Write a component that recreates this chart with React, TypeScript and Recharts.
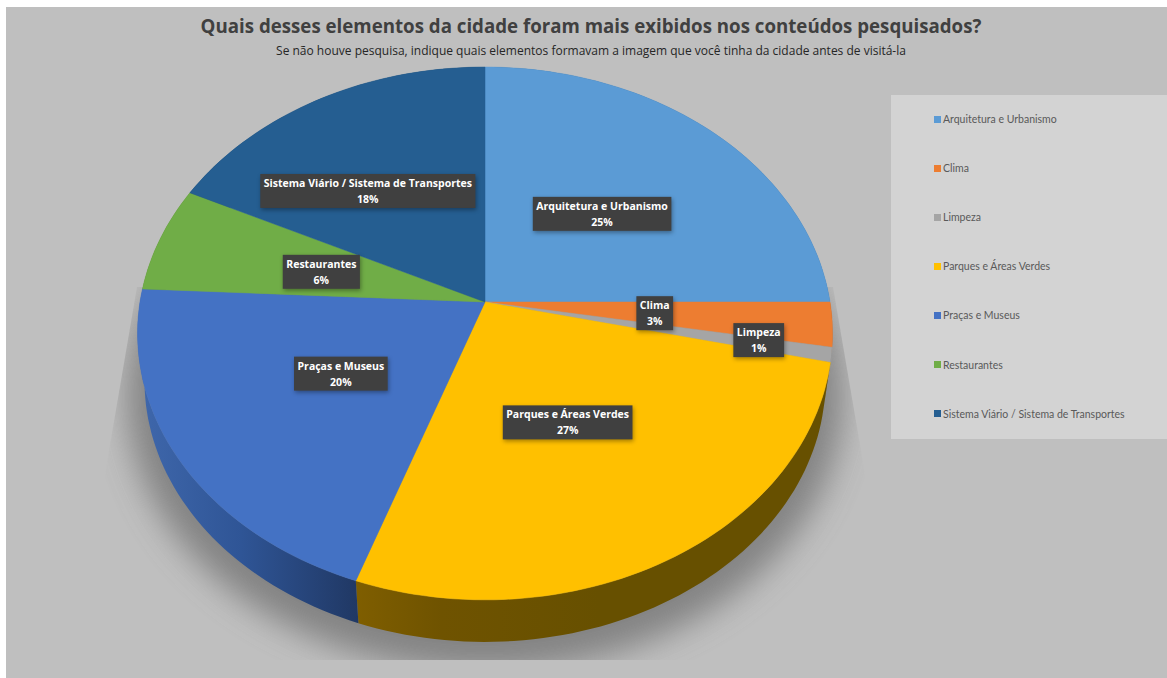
import { Legend, Pie, PieChart } from "recharts";

const TITLE = "Quais desses elementos da cidade foram mais exibidos nos conteúdos pesquisados?";
const SUBTITLE = "Se não houve pesquisa, indique quais elementos formavam a imagem que você tinha da cidade antes de visitá-la";

const categories = [
  "Arquitetura e Urbanismo",
  "Clima",
  "Limpeza",
  "Parques e Áreas Verdes",
  "Praças e Museus",
  "Restaurantes",
  "Sistema Viário / Sistema de Transportes",
];
const shares = [25, 2.7, 0.9, 26.8, 20.4, 6.4, 17.8];
const colors = ["#5b9bd5", "#ed7d31", "#a5a5a5", "#ffc000", "#4472c4", "#70ad47", "#255e91"];
const wallFills = ["#3a6a94", "#a5561f", "#737373", "url(#wallYellow)", "url(#wallBlue)", "#4e7a31", "#1a4265"];

const pieData = categories.map((name, i) => ({ name, value: shares[i], fill: colors[i] }));

const WIDTH = 1167;
const HEIGHT = 678;
const CX = 485;
const CY = 302;
const RADIUS = 345;
const RADIUS_Y = 262.7;
const PERSPECTIVE = 0.118;
const FONT = "'Open Sans', sans-serif";

// labels that Excel had been dragged away from the default spot
const labelNudge: Record<string, [number, number]> = {
  "Arquitetura e Urbanismo": [0, 1],
  Clima: [-3, 0],
  Limpeza: [-2, -4],
  "Parques e Áreas Verdes": [-5, -1],
  "Praças e Museus": [4, -4],
  Restaurantes: [1, 2],
  "Sistema Viário / Sistema de Transportes": [-30, -5],
};

// the pie is tilted away from the viewer, so the circle goes through a projective map
function project(angle: number, r = 1, scale = 1, dy = 0) {
  const t = ((90 - angle) * Math.PI) / 180;
  const u = Math.sin(t) * r;
  const v = -Math.cos(t) * r;
  const w = 1 - PERSPECTIVE * v;
  return { x: CX + (RADIUS * scale * u) / w, y: CY + dy + (RADIUS_Y * scale * v) / w };
}

function arcPoints(from: number, to: number, scale = 1, dy = 0) {
  const steps = Math.max(2, Math.ceil(Math.abs(to - from) / 1.5));
  const pts: string[] = [];
  for (let i = 0; i <= steps; i++) {
    const p = project(from + ((to - from) * i) / steps, 1, scale, dy);
    pts.push(`${p.x.toFixed(1)},${p.y.toFixed(1)}`);
  }
  return pts;
}

function TopSlice(props: any) {
  const { startAngle, endAngle, cx, cy, fill } = props;
  const d = `M${cx},${cy} L${arcPoints(startAngle, endAngle).join(" L")} Z`;
  return <path d={d} fill={fill} stroke={fill} strokeWidth={0.5} />;
}

function WallSlice(props: any) {
  const { startAngle, endAngle, index } = props;
  const upper = arcPoints(startAngle, endAngle);
  const lower = arcPoints(endAngle, startAngle, 0.98, 48);
  return <path d={`M${[...upper, ...lower].join(" L")} Z`} fill={wallFills[index]} />;
}

let ctx: CanvasRenderingContext2D | null = null;
function textWidth(s: string) {
  if (!ctx) ctx = document.createElement("canvas").getContext("2d");
  ctx!.font = `700 10.5px ${FONT}`;
  return ctx!.measureText(s).width;
}

function SliceLabel(props: any) {
  const { midAngle, name, value } = props;
  const p = project(midAngle, name === "Limpeza" ? 0.8 : 0.5);
  const [dx, dy] = labelNudge[name] || [0, 0];
  const x = p.x + dx;
  const y = p.y + dy;
  const w = textWidth(name) + 7;
  return (
    <g>
      <rect
        x={x - w / 2}
        y={y - 17}
        width={w}
        height={34}
        fill="#404040"
        style={{ filter: "drop-shadow(1px 2px 2px rgba(0,0,0,0.35))" }}
      />
      <text x={x} y={y - 4} textAnchor="middle" fontFamily={FONT} fontSize={10.5} fontWeight={700} fill="#fff">
        {name}
      </text>
      <text x={x} y={y + 12} textAnchor="middle" fontFamily={FONT} fontSize={10.5} fontWeight={700} fill="#fff">
        {Math.round(value)}%
      </text>
    </g>
  );
}

function LegendPanel({ payload }: any) {
  // both pie layers report their slices, keep each name once
  const items = (payload || []).filter(
    (item: any, i: number, all: any[]) => all.findIndex((o) => o.value === item.value) === i,
  );
  return (
    <div style={{ width: 276, height: 344, background: "#d3d3d3", position: "relative" }}>
      {items.map((item: any, i: number) => (
        <div
          key={item.value}
          style={{
            position: "absolute",
            left: 43,
            top: 14 + i * 49.1,
            height: 20,
            display: "flex",
            alignItems: "center",
            whiteSpace: "nowrap",
            fontFamily: "Lato, sans-serif",
            fontSize: 10.5,
            color: "#595959",
          }}
        >
          <span style={{ width: 7, height: 7, background: item.color, marginRight: 2 }} />
          {item.value}
        </div>
      ))}
    </div>
  );
}

export default function App() {
  const shadow = `M${arcPoints(0, 360, 1.03, 62).join(" L")} Z`;
  return (
    <div style={{ position: "absolute", left: 0, top: 0, width: WIDTH, height: HEIGHT, background: "#fff" }}>
      <div style={{ position: "absolute", left: 6, top: 7, right: 0, bottom: 0, background: "#bfbfbf" }} />
      <PieChart width={WIDTH} height={HEIGHT} margin={{ top: 0, right: 0, bottom: 0, left: 0 }} style={{ position: "absolute", left: 0, top: 0 }}>
        <defs>
          <linearGradient id="wallYellow" gradientUnits="userSpaceOnUse" x1={356} y1={0} x2={600} y2={0}>
            <stop offset="0%" stopColor="#7f5e00" />
            <stop offset="35%" stopColor="#6f5300" />
            <stop offset="100%" stopColor="#675000" />
          </linearGradient>
          <linearGradient id="wallBlue" gradientUnits="userSpaceOnUse" x1={145} y1={0} x2={358} y2={0}>
            <stop offset="0%" stopColor="#3e66aa" />
            <stop offset="45%" stopColor="#2f5596" />
            <stop offset="100%" stopColor="#203864" />
          </linearGradient>
          <filter id="softShadow" x="-20%" y="-20%" width="140%" height="140%">
            <feGaussianBlur stdDeviation="16" />
          </filter>
          <clipPath id="shadowClip">
            <path d="M137,287 L833,287 L866,480 L866,660 L104,660 L104,480 Z" />
          </clipPath>
        </defs>
        <text x={591} y={33} textAnchor="middle" fontFamily={FONT} fontSize={18.7} fontWeight={700} fill="#404040">
          {TITLE}
        </text>
        <text x={591} y={55} textAnchor="middle" fontFamily={FONT} fontSize={12} fontWeight={500} fill="#262626">
          {SUBTITLE}
        </text>
        <g clipPath="url(#shadowClip)">
          <path d={shadow} fill="#6f6f6f" opacity={0.75} filter="url(#softShadow)" />
        </g>
        <Pie
          data={pieData}
          dataKey="value"
          nameKey="name"
          cx={CX}
          cy={CY}
          outerRadius={RADIUS}
          startAngle={90}
          endAngle={-270}
          legendType="none"
          stroke="none"
          shape={WallSlice}
          isAnimationActive={false}
        />
        <Pie
          data={pieData}
          dataKey="value"
          nameKey="name"
          cx={CX}
          cy={CY}
          outerRadius={RADIUS}
          startAngle={90}
          endAngle={-270}
          stroke="none"
          shape={TopSlice}
          label={SliceLabel}
          labelLine={false}
          isAnimationActive={false}
        />
        <Legend
          layout="vertical"
          align="right"
          verticalAlign="top"
          content={LegendPanel}
          wrapperStyle={{ left: 891, top: 95, right: "auto", width: 276 }}
        />
      </PieChart>
    </div>
  );
}
